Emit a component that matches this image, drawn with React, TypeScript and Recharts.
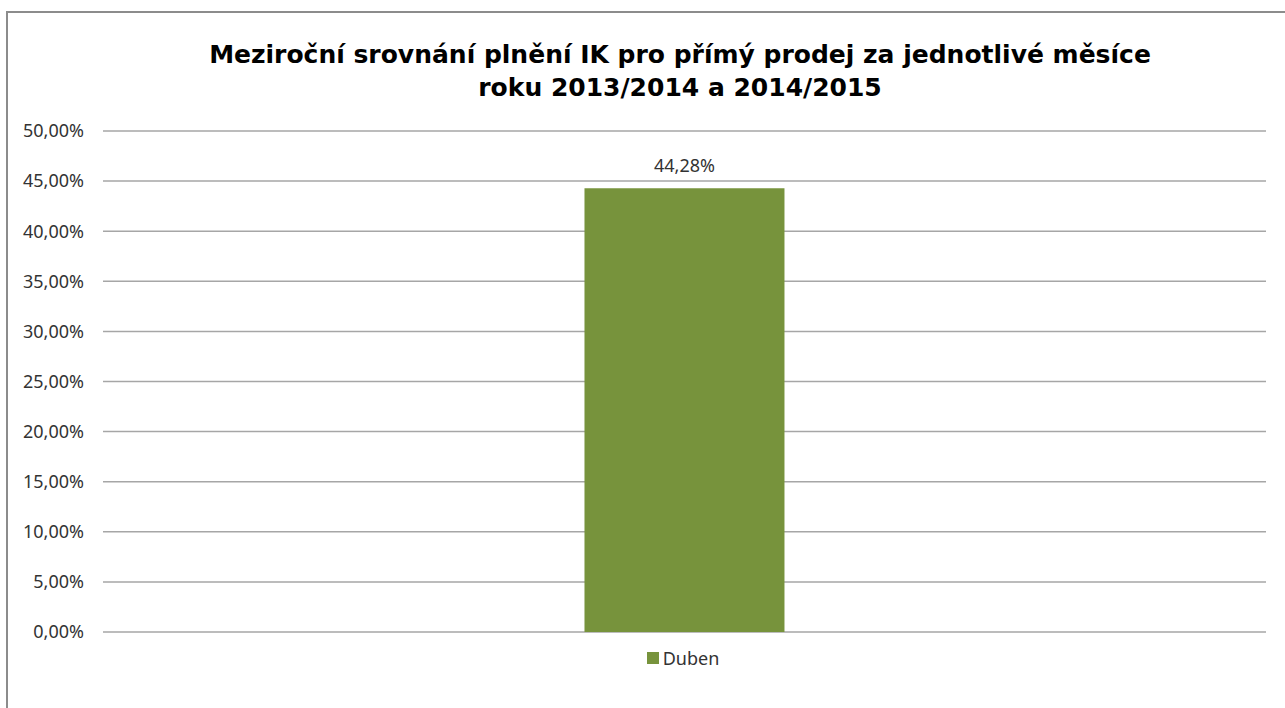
import { BarChart, Bar, XAxis, YAxis, CartesianGrid, LabelList } from "recharts";

const months = ["Duben"];
const plneni = [44.28];
const yTicks = [0, 5, 10, 15, 20, 25, 30, 35, 40, 45, 50];

const data = months.map((m, i) => ({ name: m, value: plneni[i] }));

const fmt = (v: number) => v.toFixed(2).replace(".", ",") + "%";

const labelFont = "'Noto Sans', 'Open Sans', sans-serif";

export default function App() {
  return (
    <div style={{ position: "absolute", left: 0, top: 0, width: 1285, height: 708, background: "#fff", overflow: "hidden" }}>
      <div style={{ position: "absolute", left: 6, top: 11, width: 1400, height: 800, border: "2px solid #8c8c8c" }} />
      <div
        style={{
          position: "absolute",
          left: 80,
          width: 1200,
          top: 38,
          textAlign: "center",
          fontFamily: "'DejaVu Sans', Verdana, sans-serif",
          fontWeight: "bold",
          fontSize: 25,
          lineHeight: "33px",
          color: "#000",
        }}
      >
        Meziroční srovnání plnění IK pro přímý prodej za jednotlivé měsíce
        <br />
        roku 2013/2014 a 2014/2015
      </div>
      <div style={{ position: "absolute", left: 0, top: 0 }}>
        <BarChart width={1285} height={708} data={data} margin={{ top: 131, right: 19, bottom: 76, left: 23 }} barCategoryGap="41.4%">
          <CartesianGrid vertical={false} stroke="#a6a6a6" strokeWidth={1.5} />
          <XAxis dataKey="name" hide />
          <YAxis
            width={80}
            domain={[0, 50]}
            ticks={yTicks}
            tickFormatter={fmt}
            axisLine={false}
            tickLine={false}
            tickMargin={13}
            tick={{ fill: "#333", fontSize: 18, fontFamily: labelFont }}
          />
          <Bar dataKey="value" name={months[0]} fill="#77933c" isAnimationActive={false}>
            <LabelList dataKey="value" position="top" offset={16} formatter={(v: any) => fmt(Number(v))} style={{ fill: "#333", fontSize: 18, fontFamily: labelFont }} />
          </Bar>
        </BarChart>
      </div>
      <div
        style={{
          position: "absolute",
          left: 0,
          width: 1366,
          top: 646,
          display: "flex",
          alignItems: "center",
          justifyContent: "center",
          fontFamily: labelFont,
          fontSize: 18,
          color: "#333",
        }}
      >
        <span style={{ width: 12, height: 12, background: "#77933c", display: "inline-block", marginRight: 4 }} />
        {months[0]}
      </div>
    </div>
  );
}
